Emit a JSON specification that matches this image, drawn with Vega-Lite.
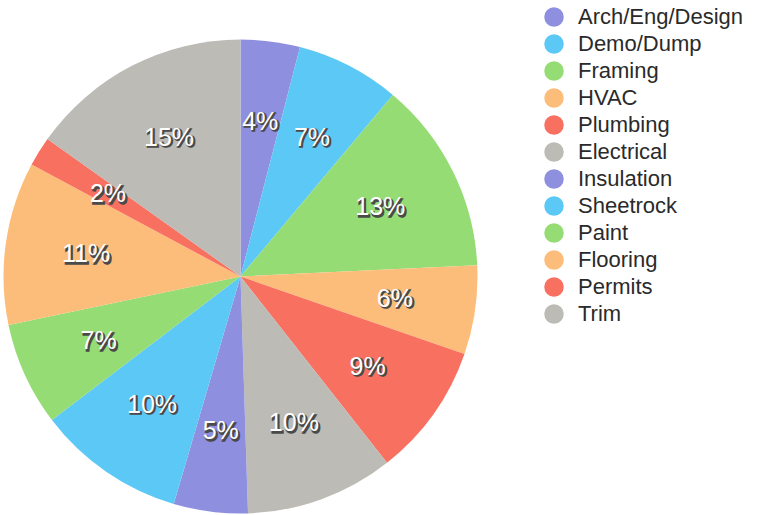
{
  "$schema": "https://vega.github.io/schema/vega-lite/v6.json",
  "width": 481,
  "height": 477,
  "autosize": "none",
  "padding": {"top": 38, "left": 0, "right": 280, "bottom": 0},
  "background": "white",
  "config": {"view": {"stroke": null}},
  "data": {"values": [
    {"category": "Arch/Eng/Design", "pct": 4, "rank": 1},
    {"category": "Demo/Dump", "pct": 7, "rank": 2},
    {"category": "Framing", "pct": 13, "rank": 3},
    {"category": "HVAC", "pct": 6, "rank": 4},
    {"category": "Plumbing", "pct": 9, "rank": 5},
    {"category": "Electrical", "pct": 10, "rank": 6},
    {"category": "Insulation", "pct": 5, "rank": 7},
    {"category": "Sheetrock", "pct": 10, "rank": 8},
    {"category": "Paint", "pct": 7, "rank": 9},
    {"category": "Flooring", "pct": 11, "rank": 10},
    {"category": "Permits", "pct": 2, "rank": 11},
    {"category": "Trim", "pct": 15, "rank": 12}
  ]},
  "encoding": {
    "theta": {"field": "pct", "type": "quantitative", "stack": true},
    "order": {"field": "rank", "type": "quantitative"},
    "color": {
      "field": "category",
      "type": "nominal",
      "sort": null,
      "scale": {
        "domain": ["Arch/Eng/Design", "Demo/Dump", "Framing", "HVAC", "Plumbing", "Electrical", "Insulation", "Sheetrock", "Paint", "Flooring", "Permits", "Trim"],
        "range": ["#8f8fdf", "#5cc8f5", "#96dc74", "#fdbd7a", "#f87060", "#bcbbb5", "#8f8fdf", "#5cc8f5", "#96dc74", "#fdbd7a", "#f87060", "#bcbbb5"]
      },
      "legend": {
        "title": null,
        "orient": "none",
        "legendX": 543,
        "legendY": -32,
        "symbolType": "circle",
        "symbolSize": 380,
        "symbolStrokeWidth": 0,
        "labelFont": "Liberation Sans",
        "labelFontSize": 22,
        "labelColor": "#2a2a2a",
        "labelOffset": 13,
        "rowPadding": 5,
        "labelLimit": 300
      }
    }
  },
  "layer": [
    {"mark": {"type": "arc", "outerRadius": 237, "stroke": null}},
    {
      "mark": {"type": "text", "radius": 156, "dx": 1.5, "dy": 1.5, "font": "Liberation Sans", "fontSize": 25, "stroke": "#4a4a4a", "strokeWidth": 1.5},
      "encoding": {"text": {"field": "label", "type": "nominal"}, "color": {"value": "#4a4a4a"}}
    },
    {
      "mark": {"type": "text", "radius": 156, "font": "Liberation Sans", "fontSize": 25},
      "encoding": {"text": {"field": "label", "type": "nominal"}, "color": {"value": "white"}}
    }
  ],
  "transform": [{"calculate": "datum.pct + '%'", "as": "label"}]
}
